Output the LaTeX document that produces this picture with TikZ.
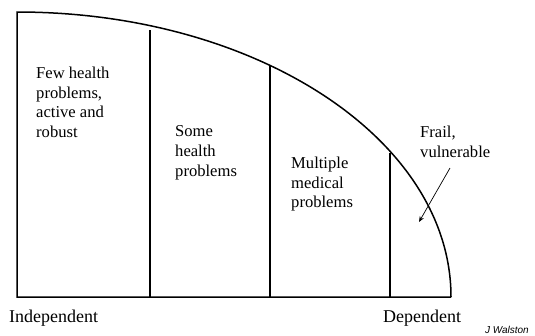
\documentclass[tikz,border=0pt]{standalone}
\usepackage{fontspec}
\setmainfont{Liberation Serif}
\setsansfont{Liberation Sans}
\usepackage{tikz}
\usetikzlibrary{arrows.meta,positioning}
\tikzset{
  frame/.style={line width=1.5pt, line join=miter},
  divider/.style={line width=1.5pt},
  label/.style={align=left, anchor=north west, inner sep=0pt,
                font=\fontsize{16.6}{19.8}\selectfont},
  axislabel/.style={anchor=base west, inner sep=0pt,
                    font=\fontsize{18}{20}\selectfont},
  pointer/.style={-{Stealth[length=2mm,width=1.6mm]}, line width=0.7pt}
}

\begin{document}
\begin{tikzpicture}[x=1pt,y=-1pt]
  \useasboundingbox (0,0) rectangle (535,335);
  % outline: quarter ellipse over the base line
  \draw[frame] (451,297) -- (17,297) -- (17,12)
    arc[start angle=90, end angle=0, x radius=434pt, y radius=285pt];
  \draw[divider] (150,30) -- (150,297);
  \draw[divider] (270,66) -- (270,297);
  \draw[divider] (390,153) -- (390,297);
  \node[label] (robust) at (36,66.5) {Few health\\problems,\\active and\\robust};
  \node[label] (some) at (175,125.5) {Some\\health\\problems};
  \node[label] (multiple) at (291,156.5) {Multiple\\medical\\problems};
  \node[label] (frail) at (420,125.5) {Frail,\\vulnerable};
  \coordinate (tail) at (450,168);
  \coordinate (tip) at (419,222);
  \draw[pointer] (tail) -- (tip);
  \node[axislabel] (indep) at (9,322) {Independent};
  \node[axislabel] (dep) at (383,322) {Dependent};
  \node[anchor=base east, inner sep=0pt, font=\sffamily\itshape\fontsize{10}{12}\selectfont]
    (author) at (529,333) {J Walston};
\end{tikzpicture}
\end{document}
